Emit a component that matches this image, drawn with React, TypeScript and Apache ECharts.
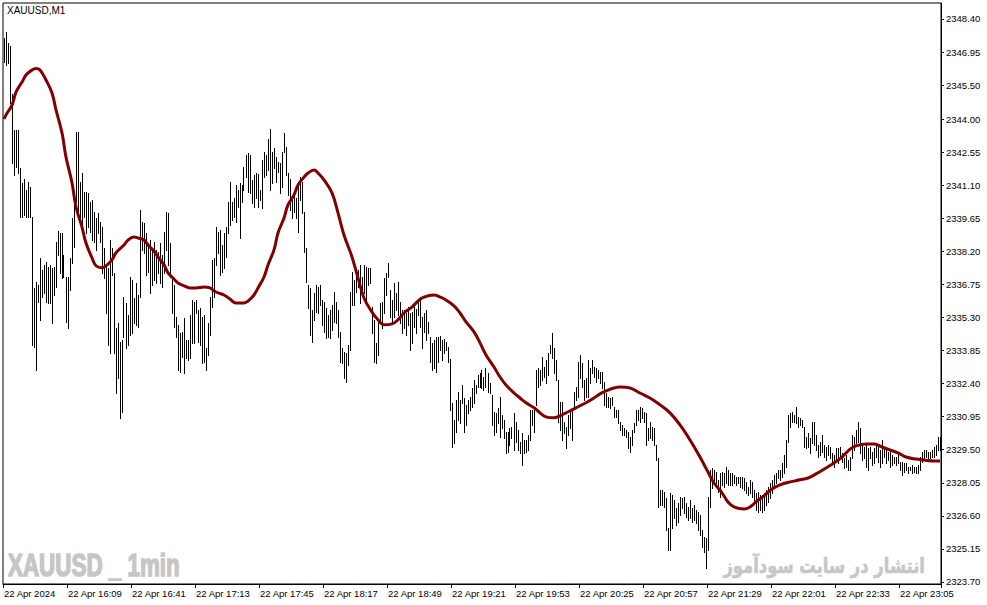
import React, { useEffect, useRef } from "react";
import * as echarts from "echarts";

// ---- data (XAUUSD M1, 22 Apr 2024) ----
const firstBarTime = "15:37";
const dayLabel = "22 Apr";
const firstLabel = "22 Apr 2024";

const highs: number[] = [
  2347.56, 2347.82, 2347.35, 2347.22, 2345.10, 2343.53, 2343.53, 2343.53, 2341.86, 2341.21,
  2341.38, 2340.90, 2341.25, 2341.03, 2339.71, 2336.60, 2336.86, 2336.73, 2337.92, 2337.39,
  2337.61, 2337.74, 2337.52, 2337.61, 2337.48, 2337.52, 2338.61, 2339.10, 2339.01, 2339.01,
  2338.05, 2337.08, 2337.08, 2337.92, 2339.67, 2340.81, 2343.44, 2343.44, 2341.25, 2341.64,
  2340.81, 2340.81, 2340.77, 2340.37, 2340.46, 2339.93, 2339.67, 2339.89, 2339.49, 2339.27,
  2338.35, 2337.52, 2337.48, 2338.70, 2338.35, 2337.26, 2334.85, 2335.07, 2334.23, 2334.32,
  2336.20, 2335.94, 2335.41, 2337.08, 2336.95, 2336.16, 2336.82, 2336.29, 2340.02, 2339.49,
  2339.45, 2339.01, 2338.57, 2338.70, 2338.27, 2338.61, 2338.27, 2338.18, 2338.57, 2338.05,
  2339.05, 2339.93, 2339.89, 2338.57, 2337.08, 2336.73, 2335.32, 2334.98, 2334.63, 2334.67,
  2335.28, 2334.32, 2334.32, 2335.41, 2336.07, 2335.98, 2336.07, 2335.63, 2335.72, 2335.32,
  2335.41, 2333.97, 2335.07, 2336.20, 2337.83, 2337.92, 2339.27, 2339.05, 2339.14, 2338.48,
  2339.01, 2339.27, 2340.37, 2341.25, 2340.37, 2340.55, 2341.12, 2340.90, 2341.21, 2341.12,
  2341.90, 2342.43, 2342.52, 2342.43, 2341.34, 2341.55, 2341.64, 2341.59, 2340.90, 2342.21,
  2342.56, 2342.43, 2343.14, 2343.57, 2342.56, 2342.74, 2342.34, 2342.12, 2342.08, 2342.56,
  2343.40, 2342.78, 2341.64, 2341.38, 2340.59, 2340.68, 2340.55, 2341.21, 2341.46, 2341.25,
  2339.93, 2338.35, 2336.73, 2336.60,
  2335.63, 2336.38, 2336.73, 2336.64, 2336.73, 2336.07, 2335.98, 2335.72, 2335.41, 2335.63,
  2335.85, 2336.42, 2335.98, 2335.63, 2334.67, 2333.97, 2333.79, 2333.75, 2334.10, 2336.42,
  2337.30, 2336.95, 2337.48, 2337.39, 2337.61, 2337.08, 2337.61, 2337.52, 2337.48, 2337.48,
  2335.76, 2335.20, 2334.19, 2335.20, 2335.94, 2335.98, 2337.04, 2337.26, 2337.70, 2336.51,
  2336.07, 2336.82, 2336.38, 2336.86, 2335.98, 2335.63, 2335.63, 2335.50, 2335.76, 2335.50,
  2335.54, 2335.76, 2335.67, 2336.07, 2336.20, 2335.32, 2335.50, 2335.63, 2335.11, 2334.45,
  2334.19, 2334.32, 2334.45, 2334.45, 2334.50, 2334.32, 2334.36, 2334.23, 2334.01, 2333.48,
  2331.56, 2330.81, 2331.69, 2332.03, 2331.69, 2332.34, 2331.77, 2331.47, 2331.69, 2331.82,
  2332.21, 2332.56, 2332.34, 2332.78, 2332.87, 2333.00, 2332.69, 2333.09, 2332.87, 2332.43,
  2331.90, 2331.16, 2331.12, 2331.34, 2331.82, 2331.03, 2330.81, 2330.28, 2330.28, 2330.46,
  2330.50, 2331.12, 2330.72, 2330.37, 2329.84, 2330.24, 2329.93, 2329.93, 2330.15, 2331.25,
  2331.25, 2331.25, 2333.00, 2333.09, 2333.00, 2333.57, 2333.13, 2333.44, 2333.75, 2334.10,
  2334.63, 2333.97, 2333.44, 2332.56, 2331.60, 2331.60, 2330.72, 2330.50, 2331.03, 2331.16,
  2331.34, 2332.03, 2332.25, 2333.35, 2333.66, 2333.31, 2332.56, 2332.65, 2333.44, 2333.09,
  2333.44, 2333.13, 2333.09, 2333.00, 2332.91, 2332.91, 2332.47, 2331.99, 2331.82, 2331.77,
  2331.82, 2331.38, 2331.25, 2331.25, 2330.72,
  2330.59, 2330.46, 2330.37, 2330.28, 2330.06, 2330.37, 2330.68, 2331.25, 2331.25, 2331.38,
  2331.34, 2331.16, 2331.12, 2330.46, 2330.72, 2330.50, 2330.46, 2329.71, 2329.14, 2327.74,
  2327.74, 2327.65, 2327.39, 2326.07, 2327.61, 2327.52, 2327.30, 2326.95, 2327.17, 2327.43,
  2327.39, 2327.43, 2327.17, 2326.99, 2327.30, 2326.95, 2327.08, 2326.86, 2326.77, 2326.64,
  2325.98, 2325.67, 2325.63, 2327.43, 2328.61, 2328.70, 2328.61, 2328.52, 2328.18, 2328.48,
  2328.52, 2328.48, 2328.74, 2328.61, 2328.48, 2328.48, 2328.39, 2328.30, 2328.30, 2328.30,
  2328.30, 2328.26, 2328.09, 2327.87, 2328.18, 2328.09, 2327.74, 2327.61, 2327.65, 2327.52,
  2327.52, 2327.61, 2327.74, 2327.87, 2328.04, 2328.18, 2328.39, 2328.48, 2328.61, 2328.61,
  2328.92, 2329.27, 2329.93, 2331.03, 2331.12, 2331.16, 2331.03, 2331.38, 2330.94, 2330.90,
  2330.81, 2330.50, 2330.06, 2330.24, 2330.02, 2330.72, 2330.72, 2330.15, 2329.71, 2329.84,
  2330.15, 2329.71, 2329.62, 2329.71, 2329.62, 2329.36, 2329.27, 2329.58, 2329.58, 2329.62,
  2329.36, 2329.14, 2329.27, 2329.05, 2329.18, 2330.15, 2330.06, 2330.37, 2330.72, 2330.46,
  2329.71, 2329.62, 2329.80, 2329.58, 2329.62, 2329.40, 2329.58, 2329.71, 2329.71, 2329.49,
  2329.93, 2329.62, 2329.49, 2329.40, 2329.40, 2329.27, 2329.18, 2329.18, 2329.36, 2328.96,
  2328.96, 2328.92, 2328.92, 2328.74, 2328.74, 2328.83, 2328.74, 2328.74, 2328.83, 2329.18,
  2329.40, 2329.49, 2329.49, 2329.40, 2329.40, 2329.49, 2329.62, 2329.71, 2330.06, 2330.06,
];

const lows: number[] = [
  2346.51, 2346.38, 2346.47, 2344.71, 2342.08, 2341.55, 2341.90, 2341.64, 2339.71, 2339.71,
  2339.80, 2339.71, 2339.71, 2339.71, 2334.10, 2334.01, 2333.00, 2335.98, 2335.20, 2336.20,
  2336.38, 2335.98, 2335.94, 2335.94, 2335.07, 2336.29, 2336.64, 2338.05, 2337.26, 2337.04,
  2337.08, 2335.11, 2334.85, 2336.51, 2337.70, 2338.39, 2340.37, 2339.71, 2339.58, 2339.27,
  2339.71, 2339.01, 2339.27, 2339.05, 2338.70, 2338.61, 2338.27, 2339.01, 2338.61, 2337.26,
  2337.04, 2335.50, 2334.10, 2333.75, 2337.17, 2333.75, 2331.99, 2332.65, 2330.90, 2331.16,
  2334.45, 2333.97, 2334.10, 2334.54, 2334.63, 2335.07, 2334.98, 2334.89, 2336.20, 2338.27,
  2338.14, 2337.17, 2337.30, 2336.38, 2336.73, 2336.95, 2336.82, 2337.26, 2336.82, 2336.64,
  2337.26, 2338.27, 2337.61, 2337.08, 2335.50, 2334.89, 2334.45, 2333.00, 2332.91, 2333.57,
  2332.87, 2333.53, 2333.44, 2333.53, 2334.19, 2334.19, 2335.50, 2334.23, 2334.10, 2333.31,
  2333.35, 2333.00, 2333.66, 2334.54, 2335.76, 2336.20, 2337.61, 2338.14, 2337.17, 2337.30,
  2337.48, 2337.96, 2339.01, 2339.36, 2339.58, 2339.71, 2339.49, 2340.15, 2338.79, 2340.37,
  2340.90, 2341.46, 2340.81, 2340.77, 2340.33, 2340.15, 2340.55, 2340.15, 2340.46, 2340.11,
  2341.46, 2341.55, 2341.77, 2340.90, 2341.21, 2341.86, 2341.25, 2341.68, 2340.77, 2341.03,
  2342.56, 2341.55, 2340.68, 2340.02, 2339.67, 2339.93, 2339.67, 2339.05, 2340.46, 2339.89,
  2338.18, 2336.86, 2335.72, 2334.54,
  2334.23, 2335.20, 2335.54, 2335.50, 2335.85, 2334.98, 2334.67, 2334.41, 2334.45, 2334.41,
  2334.76, 2335.11, 2335.07, 2334.45, 2333.35, 2333.31, 2332.65, 2332.47, 2333.22, 2333.88,
  2335.85, 2335.85, 2336.42, 2336.64, 2335.94, 2336.38, 2336.38, 2335.98, 2336.73, 2336.82,
  2334.63, 2333.35, 2333.31, 2333.66, 2335.20, 2334.85, 2335.50, 2336.29, 2337.08, 2335.32,
  2335.07, 2335.32, 2335.63, 2335.41, 2335.07, 2334.63, 2334.85, 2334.54, 2334.98, 2333.88,
  2334.19, 2334.89, 2334.63, 2335.41, 2334.89, 2333.97, 2334.67, 2334.32, 2334.63, 2333.35,
  2333.00, 2333.09, 2332.91, 2333.35, 2333.88, 2333.44, 2333.75, 2333.88, 2333.35, 2331.25,
  2329.62, 2329.80, 2330.28, 2330.81, 2330.68, 2331.56, 2330.28, 2330.59, 2331.12, 2331.25,
  2331.38, 2331.56, 2331.99, 2332.25, 2332.25, 2332.21, 2332.12, 2332.25, 2332.03, 2331.99,
  2330.59, 2330.15, 2330.28, 2330.68, 2330.06, 2330.46, 2330.02, 2329.36, 2329.40, 2329.71,
  2330.02, 2329.49, 2329.84, 2329.49, 2329.36, 2328.83, 2329.36, 2329.40, 2329.49, 2329.93,
  2330.59, 2330.28, 2331.47, 2332.25, 2332.34, 2332.56, 2332.69, 2332.43, 2332.78, 2333.75,
  2333.53, 2332.87, 2332.56, 2330.72, 2330.37, 2329.93, 2330.24, 2329.58, 2330.15, 2330.46,
  2329.93, 2331.34, 2331.69, 2331.82, 2332.65, 2332.25, 2331.69, 2331.82, 2331.82, 2332.43,
  2332.87, 2332.69, 2332.47, 2332.65, 2332.43, 2332.21, 2331.47, 2331.38, 2331.38, 2331.34,
  2331.47, 2330.94, 2330.94, 2330.68, 2330.37,
  2330.15, 2330.15, 2330.06, 2329.58, 2329.40, 2329.71, 2330.28, 2330.59, 2330.81, 2330.72,
  2330.90, 2330.72, 2329.71, 2329.93, 2330.02, 2329.93, 2329.71, 2329.05, 2327.00, 2327.08,
  2327.08, 2327.00, 2325.98, 2325.11, 2325.11, 2326.07, 2326.51, 2326.20, 2326.33, 2326.64,
  2326.95, 2326.73, 2326.55, 2326.42, 2326.51, 2326.33, 2326.42, 2326.29, 2325.98, 2325.76,
  2325.24, 2325.02, 2324.32, 2325.11, 2327.00, 2327.83, 2328.04, 2327.87, 2327.65, 2327.43,
  2327.96, 2327.87, 2328.04, 2327.96, 2327.96, 2327.96, 2328.04, 2327.96, 2328.04, 2327.87,
  2327.83, 2327.74, 2327.61, 2327.52, 2327.61, 2327.43, 2327.21, 2326.86, 2326.77, 2326.86,
  2326.77, 2326.86, 2327.08, 2327.21, 2327.39, 2327.61, 2327.83, 2328.04, 2328.26, 2328.18,
  2328.30, 2328.48, 2328.74, 2329.84, 2330.50, 2330.72, 2330.72, 2330.68, 2330.50, 2330.59,
  2330.50, 2329.62, 2329.58, 2329.62, 2329.36, 2329.80, 2329.71, 2329.49, 2329.18, 2329.27,
  2329.40, 2329.18, 2329.05, 2329.27, 2329.14, 2328.96, 2328.74, 2328.96, 2328.92, 2329.14,
  2328.96, 2328.70, 2328.74, 2328.61, 2328.61, 2329.14, 2329.49, 2329.80, 2329.84, 2329.36,
  2329.05, 2329.14, 2328.74, 2328.61, 2329.14, 2328.83, 2328.92, 2329.18, 2328.96, 2328.74,
  2328.92, 2329.18, 2328.92, 2329.05, 2328.74, 2328.83, 2328.92, 2328.83, 2328.92, 2328.61,
  2328.39, 2328.52, 2328.61, 2328.48, 2328.61, 2328.48, 2328.52, 2328.48, 2328.48, 2328.61,
  2328.96, 2329.14, 2329.18, 2329.14, 2329.14, 2329.18, 2329.18, 2329.27, 2329.49, 2329.49,
];

// smoothed moving average, read at selected bars
const maIndex: number[] = [
  0, 1, 4, 6, 9, 11, 14, 16, 18, 21, 24, 26, 29, 31, 34, 36, 39, 41, 44, 46,
  49, 51, 54, 56, 60, 62, 65, 67, 70, 72, 75, 77, 80, 82, 85, 87, 90, 93, 96, 100,
  103, 106, 110, 113, 116, 120, 122, 125, 127, 130, 132, 135, 137, 140, 142, 145, 147, 150, 152, 155,
  157, 160, 164, 167, 170, 174, 177, 180, 184, 187, 190, 194, 197, 200, 204, 207, 210, 215, 218, 221,
  225, 228, 231, 235, 238, 241, 245, 248, 251, 255, 258, 261, 265, 268, 271, 275, 278, 281, 285, 288,
  291, 295, 298, 301, 305, 308, 313, 318, 323, 328, 333, 338, 343, 348, 352, 355, 359, 362, 365, 370,
  373, 376, 380, 384, 388, 393, 398, 402, 406, 411, 415, 419, 423, 426, 431, 435, 439, 443, 447, 451,
  456, 460, 465, 468,
];
const maValues: number[] = [
  2344.01, 2344.19, 2344.62, 2345.19, 2345.63, 2345.94, 2346.16, 2346.23, 2346.16, 2345.72,
  2345.15, 2344.41, 2343.40, 2342.34, 2341.21, 2340.15, 2339.27, 2338.57, 2337.92, 2337.57,
  2337.48, 2337.57, 2337.83, 2338.14, 2338.48, 2338.70, 2338.83, 2338.79, 2338.70, 2338.48,
  2338.22, 2337.96, 2337.61, 2337.26, 2336.99, 2336.82, 2336.69, 2336.60, 2336.60, 2336.64,
  2336.60, 2336.42, 2336.29, 2336.11, 2335.94, 2335.94, 2336.02, 2336.29, 2336.60, 2337.08,
  2337.61, 2338.27, 2339.01, 2339.67, 2340.24, 2340.68, 2341.12, 2341.46, 2341.64, 2341.77,
  2341.64, 2341.34, 2340.77, 2339.89, 2338.92, 2337.96, 2337.04, 2336.16, 2335.54, 2335.20,
  2334.98, 2335.02, 2335.20, 2335.50, 2335.76, 2336.02, 2336.20, 2336.29, 2336.20, 2336.07,
  2335.81, 2335.50, 2335.11, 2334.67, 2334.19, 2333.66, 2333.13, 2332.69, 2332.34, 2331.99,
  2331.77, 2331.56, 2331.34, 2331.12, 2330.94, 2330.90, 2330.99, 2331.12, 2331.29, 2331.43,
  2331.56, 2331.77, 2331.95, 2332.08, 2332.21, 2332.25, 2332.21, 2331.99, 2331.77, 2331.47,
  2331.12, 2330.59, 2329.93, 2329.18, 2328.52, 2328.04, 2327.61, 2327.21, 2326.99, 2326.90,
  2326.99, 2327.21, 2327.48, 2327.78, 2327.96, 2328.09, 2328.18, 2328.26, 2328.44, 2328.70,
  2328.92, 2329.18, 2329.53, 2329.67, 2329.75, 2329.75, 2329.62, 2329.49, 2329.36, 2329.18,
  2329.09, 2329.05, 2329.01, 2329.01,
];

const yTickLabels: string[] = [
  "2323.70", "2325.15", "2326.60", "2328.05", "2329.50", "2330.95", "2332.40", "2333.85", "2335.30",
  "2336.75", "2338.20", "2339.65", "2341.10", "2342.55", "2344.00", "2345.50", "2346.95", "2348.40",
];

const xLabelEvery = 32;

function pad(n: number) {
  return n < 10 ? "0" + n : "" + n;
}

const startParts = firstBarTime.split(":").map(Number);
const categories: string[] = highs.map((_, i) => {
  if (i === 0) return firstLabel;
  const t = startParts[0] * 60 + startParts[1] + i;
  return `${dayLabel} ${pad(Math.floor(t / 60) % 24)}:${pad(t % 60)}`;
});

export default function App() {
  const ref = useRef<HTMLDivElement>(null);

  useEffect(() => {
    if (!ref.current) return;
    const chart = echarts.init(ref.current, undefined, { renderer: "svg" });
    const font = "'Liberation Sans', Arial, sans-serif";
    const tickVals = yTickLabels.map((s) => parseFloat(s));

    const option: any = {
      animation: false,
      backgroundColor: "#ffffff",
      grid: {
        left: 3,
        right: 46,
        top: 3,
        bottom: 21,
        show: true,
        borderColor: "#000",
        borderWidth: 1,
        backgroundColor: "transparent",
      },
      xAxis: {
        type: "category",
        data: categories,
        boundaryGap: true,
        axisLine: { show: true, lineStyle: { color: "#000", width: 1 } },
        axisTick: {
          show: true,
          interval: (idx: number) => idx % xLabelEvery === 0,
          length: 4,
          lineStyle: { color: "#000" },
        },
        axisLabel: {
          interval: (idx: number) => idx % xLabelEvery === 0,
          align: "left",
          color: "#000",
          fontSize: 9.5,
          fontFamily: font,
          margin: 4,
          hideOverlap: false,
        },
        splitLine: { show: false },
      },
      yAxis: {
        type: "value",
        position: "right",
        min: 2323.61,
        max: 2349.1,
        scale: true,
        axisLine: { show: true, lineStyle: { color: "#000", width: 1 } },
        axisTick: {
          show: true,
          length: 3,
          customValues: tickVals,
          lineStyle: { color: "#000" },
        },
        axisLabel: {
          customValues: tickVals,
          formatter: (v: number) => v.toFixed(2),
          color: "#000",
          fontSize: 9.5,
          fontFamily: font,
          margin: 5,
        },
        splitLine: { show: false },
      },
      graphic: [
        {
          type: "text",
          left: 7,
          top: 5,
          style: { text: "XAUUSD,M1", fill: "#000", fontSize: 10, fontFamily: font },
          z: 100,
        },
        {
          type: "text",
          x: 8,
          y: 565,
          scaleX: 0.7,
          style: {
            text: "XAUUSD _ 1min",
            fill: "#c6c6c6",
            stroke: "#c6c6c6",
            lineWidth: 1.6,
            fontSize: 32,
            fontWeight: "bold",
            fontFamily: font,
            verticalAlign: "middle",
          },
          z: 100,
        },
        {
          type: "text",
          x: 925,
          y: 566,
          scaleX: 0.78,
          style: {
            text: "انتشار در سایت سودآموز",
            fill: "#c6c6c6",
            stroke: "#c6c6c6",
            lineWidth: 0.6,
            fontSize: 21,
            fontWeight: "bold",
            fontFamily: "'DejaVu Sans', sans-serif",
            align: "right",
            verticalAlign: "middle",
          },
          z: 100,
        },
      ],
      series: [
        {
          type: "custom",
          name: "bars",
          data: highs.map((h, i) => [i, h, lows[i]]),
          encode: { x: 0, y: [1, 2] },
          renderItem: (params: any, api: any) => {
            const i = api.value(0);
            const hi = api.coord([i, api.value(1)]);
            const lo = api.coord([i, api.value(2)]);
            const x = Math.floor(hi[0]) + 0.5;
            return {
              type: "line",
              shape: { x1: x, y1: Math.round(hi[1]), x2: x, y2: Math.round(lo[1]) + 1 },
              style: { stroke: "#000", lineWidth: 1 },
            };
          },
          z: 2,
        },
        {
          type: "line",
          name: "MA",
          data: maIndex.map((idx, k) => [idx, maValues[k]]),
          smooth: 0.4,
          showSymbol: false,
          symbol: "none",
          lineStyle: { color: "#800000", width: 3 },
          z: 3,
        },
      ],
    };

    chart.setOption(option);
    return () => chart.dispose();
  }, []);

  return (
    <div
      ref={ref}
      style={{ position: "fixed", left: 0, top: 0, width: 987, height: 605, background: "#fff" }}
    />
  );
}
